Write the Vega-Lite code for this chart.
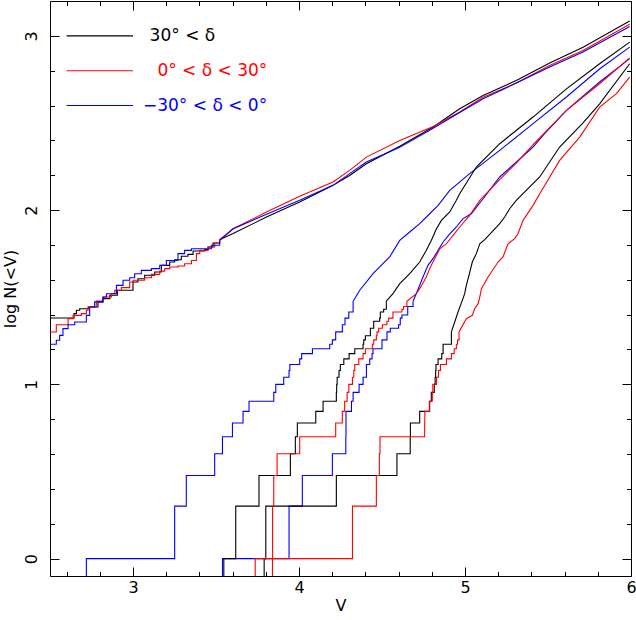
{
  "$schema": "https://vega.github.io/schema/vega-lite/v6.json",
  "width": 581,
  "height": 575,
  "autosize": {"type": "none"},
  "padding": {"left": 50, "top": 1, "right": 5, "bottom": 44},
  "background": "white",
  "config": {
    "view": {"stroke": null},
    "font": "DejaVu Sans",
    "axis": {
      "domainColor": "#000", "tickColor": "#000", "labelColor": "#000", "titleColor": "#000",
      "labelFont": "DejaVu Sans", "titleFont": "DejaVu Sans", "titleFontWeight": "normal",
      "labelFontSize": 16, "titleFontSize": 16, "grid": false, "domainWidth": 1, "tickWidth": 1,
      "labelFlush": false, "labelOverlap": false
    }
  },
  "datasets": {
    "steps": [
      {"curve":"N0","dec":"30° < δ","V":2.5,"logN":1.381},
      {"curve":"N0","dec":"30° < δ","V":2.645,"logN":1.406},
      {"curve":"N0","dec":"30° < δ","V":2.659,"logN":1.425},
      {"curve":"N0","dec":"30° < δ","V":2.679,"logN":1.434},
      {"curve":"N0","dec":"30° < δ","V":2.733,"logN":1.444},
      {"curve":"N0","dec":"30° < δ","V":2.789,"logN":1.473},
      {"curve":"N0","dec":"30° < δ","V":2.819,"logN":1.492},
      {"curve":"N0","dec":"30° < δ","V":2.86,"logN":1.511},
      {"curve":"N0","dec":"30° < δ","V":2.906,"logN":1.54},
      {"curve":"N0","dec":"30° < δ","V":3.0,"logN":1.587},
      {"curve":"N0","dec":"30° < δ","V":3.03,"logN":1.606},
      {"curve":"N0","dec":"30° < δ","V":3.07,"logN":1.626},
      {"curve":"N0","dec":"30° < δ","V":3.131,"logN":1.645},
      {"curve":"N0","dec":"30° < δ","V":3.171,"logN":1.683},
      {"curve":"N0","dec":"30° < δ","V":3.221,"logN":1.702},
      {"curve":"N0","dec":"30° < δ","V":3.251,"logN":1.715},
      {"curve":"N0","dec":"30° < δ","V":3.291,"logN":1.735},
      {"curve":"N0","dec":"30° < δ","V":3.331,"logN":1.746},
      {"curve":"N0","dec":"30° < δ","V":3.362,"logN":1.765},
      {"curve":"N0","dec":"30° < δ","V":3.432,"logN":1.773},
      {"curve":"N0","dec":"30° < δ","V":3.452,"logN":1.788},
      {"curve":"N0","dec":"30° < δ","V":3.482,"logN":1.811},
      {"curve":"N0","dec":"30° < δ","V":3.522,"logN":1.83},

      {"curve":"M0","dec":"0° < δ < 30°","V":2.5,"logN":1.3},
      {"curve":"M0","dec":"0° < δ < 30°","V":2.538,"logN":1.342},
      {"curve":"M0","dec":"0° < δ < 30°","V":2.609,"logN":1.377},
      {"curve":"M0","dec":"0° < δ < 30°","V":2.639,"logN":1.396},
      {"curve":"M0","dec":"0° < δ < 30°","V":2.689,"logN":1.406},
      {"curve":"M0","dec":"0° < δ < 30°","V":2.719,"logN":1.425},
      {"curve":"M0","dec":"0° < δ < 30°","V":2.729,"logN":1.444},
      {"curve":"M0","dec":"0° < δ < 30°","V":2.779,"logN":1.478},
      {"curve":"M0","dec":"0° < δ < 30°","V":2.819,"logN":1.501},
      {"curve":"M0","dec":"0° < δ < 30°","V":2.87,"logN":1.52},
      {"curve":"M0","dec":"0° < δ < 30°","V":2.89,"logN":1.54},
      {"curve":"M0","dec":"0° < δ < 30°","V":2.93,"logN":1.555},
      {"curve":"M0","dec":"0° < δ < 30°","V":2.98,"logN":1.587},
      {"curve":"M0","dec":"0° < δ < 30°","V":3.0,"logN":1.597},
      {"curve":"M0","dec":"0° < δ < 30°","V":3.07,"logN":1.612},
      {"curve":"M0","dec":"0° < δ < 30°","V":3.111,"logN":1.631},
      {"curve":"M0","dec":"0° < δ < 30°","V":3.161,"logN":1.65},
      {"curve":"M0","dec":"0° < δ < 30°","V":3.191,"logN":1.664},
      {"curve":"M0","dec":"0° < δ < 30°","V":3.221,"logN":1.673},
      {"curve":"M0","dec":"0° < δ < 30°","V":3.271,"logN":1.679},
      {"curve":"M0","dec":"0° < δ < 30°","V":3.311,"logN":1.692},
      {"curve":"M0","dec":"0° < δ < 30°","V":3.352,"logN":1.711},
      {"curve":"M0","dec":"0° < δ < 30°","V":3.382,"logN":1.75},
      {"curve":"M0","dec":"0° < δ < 30°","V":3.402,"logN":1.769},
      {"curve":"M0","dec":"0° < δ < 30°","V":3.452,"logN":1.788},
      {"curve":"M0","dec":"0° < δ < 30°","V":3.492,"logN":1.811},
      {"curve":"M0","dec":"0° < δ < 30°","V":3.522,"logN":1.83},

      {"curve":"S0","dec":"−30° < δ < 0°","V":2.5,"logN":1.23},
      {"curve":"S0","dec":"−30° < δ < 0°","V":2.538,"logN":1.253},
      {"curve":"S0","dec":"−30° < δ < 0°","V":2.558,"logN":1.281},
      {"curve":"S0","dec":"−30° < δ < 0°","V":2.578,"logN":1.32},
      {"curve":"S0","dec":"−30° < δ < 0°","V":2.609,"logN":1.342},
      {"curve":"S0","dec":"−30° < δ < 0°","V":2.649,"logN":1.358},
      {"curve":"S0","dec":"−30° < δ < 0°","V":2.719,"logN":1.396},
      {"curve":"S0","dec":"−30° < δ < 0°","V":2.739,"logN":1.444},
      {"curve":"S0","dec":"−30° < δ < 0°","V":2.769,"logN":1.473},
      {"curve":"S0","dec":"−30° < δ < 0°","V":2.819,"logN":1.501},
      {"curve":"S0","dec":"−30° < δ < 0°","V":2.84,"logN":1.52},
      {"curve":"S0","dec":"−30° < δ < 0°","V":2.9,"logN":1.568},
      {"curve":"S0","dec":"−30° < δ < 0°","V":2.94,"logN":1.597},
      {"curve":"S0","dec":"−30° < δ < 0°","V":2.98,"logN":1.612},
      {"curve":"S0","dec":"−30° < δ < 0°","V":3.01,"logN":1.635},
      {"curve":"S0","dec":"−30° < δ < 0°","V":3.05,"logN":1.654},
      {"curve":"S0","dec":"−30° < δ < 0°","V":3.111,"logN":1.664},
      {"curve":"S0","dec":"−30° < δ < 0°","V":3.161,"logN":1.683},
      {"curve":"S0","dec":"−30° < δ < 0°","V":3.201,"logN":1.711},
      {"curve":"S0","dec":"−30° < δ < 0°","V":3.271,"logN":1.75},
      {"curve":"S0","dec":"−30° < δ < 0°","V":3.311,"logN":1.769},
      {"curve":"S0","dec":"−30° < δ < 0°","V":3.352,"logN":1.778},
      {"curve":"S0","dec":"−30° < δ < 0°","V":3.472,"logN":1.798},
      {"curve":"S0","dec":"−30° < δ < 0°","V":3.522,"logN":1.826},

      {"curve":"S1","dec":"−30° < δ < 0°","V":2.719,"logN":-1},
      {"curve":"S1","dec":"−30° < δ < 0°","V":2.7191,"logN":0},
      {"curve":"S1","dec":"−30° < δ < 0°","V":3.251,"logN":0.301},
      {"curve":"S1","dec":"−30° < δ < 0°","V":3.321,"logN":0.477},
      {"curve":"S1","dec":"−30° < δ < 0°","V":3.492,"logN":0.602},
      {"curve":"S1","dec":"−30° < δ < 0°","V":3.539,"logN":0.699},
      {"curve":"S1","dec":"−30° < δ < 0°","V":3.599,"logN":0.778},
      {"curve":"S1","dec":"−30° < δ < 0°","V":3.663,"logN":0.845},
      {"curve":"S1","dec":"−30° < δ < 0°","V":3.699,"logN":0.903},
      {"curve":"S1","dec":"−30° < δ < 0°","V":3.848,"logN":0.954},
      {"curve":"S1","dec":"−30° < δ < 0°","V":3.86,"logN":1.0},
      {"curve":"S1","dec":"−30° < δ < 0°","V":3.908,"logN":1.041},
      {"curve":"S1","dec":"−30° < δ < 0°","V":3.94,"logN":1.079},
      {"curve":"S1","dec":"−30° < δ < 0°","V":3.945,"logN":1.114},
      {"curve":"S1","dec":"−30° < δ < 0°","V":4.004,"logN":1.146},
      {"curve":"S1","dec":"−30° < δ < 0°","V":4.016,"logN":1.176},
      {"curve":"S1","dec":"−30° < δ < 0°","V":4.081,"logN":1.204},
      {"curve":"S1","dec":"−30° < δ < 0°","V":4.185,"logN":1.23},
      {"curve":"S1","dec":"−30° < δ < 0°","V":4.201,"logN":1.255},
      {"curve":"S1","dec":"−30° < δ < 0°","V":4.221,"logN":1.301},
      {"curve":"S1","dec":"−30° < δ < 0°","V":4.261,"logN":1.342},
      {"curve":"S1","dec":"−30° < δ < 0°","V":4.277,"logN":1.38},
      {"curve":"S1","dec":"−30° < δ < 0°","V":4.3,"logN":1.415},
      {"curve":"S1","dec":"−30° < δ < 0°","V":4.326,"logN":1.477},

      {"curve":"S2","dec":"−30° < δ < 0°","V":3.539,"logN":-1},
      {"curve":"S2","dec":"−30° < δ < 0°","V":3.5391,"logN":0},
      {"curve":"S2","dec":"−30° < δ < 0°","V":3.94,"logN":0.301},
      {"curve":"S2","dec":"−30° < δ < 0°","V":4.02,"logN":0.477},
      {"curve":"S2","dec":"−30° < δ < 0°","V":4.201,"logN":0.602},
      {"curve":"S2","dec":"−30° < δ < 0°","V":4.282,"logN":0.699},
      {"curve":"S2","dec":"−30° < δ < 0°","V":4.283,"logN":0.845},
      {"curve":"S2","dec":"−30° < δ < 0°","V":4.316,"logN":0.903},
      {"curve":"S2","dec":"−30° < δ < 0°","V":4.326,"logN":0.954},
      {"curve":"S2","dec":"−30° < δ < 0°","V":4.362,"logN":1.0},
      {"curve":"S2","dec":"−30° < δ < 0°","V":4.386,"logN":1.041},
      {"curve":"S2","dec":"−30° < δ < 0°","V":4.406,"logN":1.114},
      {"curve":"S2","dec":"−30° < δ < 0°","V":4.426,"logN":1.146},
      {"curve":"S2","dec":"−30° < δ < 0°","V":4.44,"logN":1.176},
      {"curve":"S2","dec":"−30° < δ < 0°","V":4.446,"logN":1.204},
      {"curve":"S2","dec":"−30° < δ < 0°","V":4.5,"logN":1.255},
      {"curve":"S2","dec":"−30° < δ < 0°","V":4.53,"logN":1.301},
      {"curve":"S2","dec":"−30° < δ < 0°","V":4.55,"logN":1.322},
      {"curve":"S2","dec":"−30° < δ < 0°","V":4.6,"logN":1.342},
      {"curve":"S2","dec":"−30° < δ < 0°","V":4.61,"logN":1.38},
      {"curve":"S2","dec":"−30° < δ < 0°","V":4.62,"logN":1.398},
      {"curve":"S2","dec":"−30° < δ < 0°","V":4.655,"logN":1.447},
      {"curve":"S2","dec":"−30° < δ < 0°","V":4.687,"logN":1.477},

      {"curve":"N1","dec":"30° < δ","V":3.547,"logN":-1},
      {"curve":"N1","dec":"30° < δ","V":3.5471,"logN":0},
      {"curve":"N1","dec":"30° < δ","V":3.619,"logN":0.301},
      {"curve":"N1","dec":"30° < δ","V":3.759,"logN":0.477},
      {"curve":"N1","dec":"30° < δ","V":3.948,"logN":0.602},
      {"curve":"N1","dec":"30° < δ","V":3.978,"logN":0.699},
      {"curve":"N1","dec":"30° < δ","V":3.99,"logN":0.778},
      {"curve":"N1","dec":"30° < δ","V":4.101,"logN":0.845},
      {"curve":"N1","dec":"30° < δ","V":4.145,"logN":0.903},
      {"curve":"N1","dec":"30° < δ","V":4.225,"logN":0.954},
      {"curve":"N1","dec":"30° < δ","V":4.227,"logN":1.0},
      {"curve":"N1","dec":"30° < δ","V":4.23,"logN":1.041},
      {"curve":"N1","dec":"30° < δ","V":4.241,"logN":1.079},
      {"curve":"N1","dec":"30° < δ","V":4.249,"logN":1.114},
      {"curve":"N1","dec":"30° < δ","V":4.27,"logN":1.146},
      {"curve":"N1","dec":"30° < δ","V":4.302,"logN":1.176},
      {"curve":"N1","dec":"30° < δ","V":4.336,"logN":1.204},
      {"curve":"N1","dec":"30° < δ","V":4.386,"logN":1.23},
      {"curve":"N1","dec":"30° < δ","V":4.39,"logN":1.255},
      {"curve":"N1","dec":"30° < δ","V":4.4,"logN":1.279},
      {"curve":"N1","dec":"30° < δ","V":4.43,"logN":1.322},
      {"curve":"N1","dec":"30° < δ","V":4.45,"logN":1.362},
      {"curve":"N1","dec":"30° < δ","V":4.486,"logN":1.38},
      {"curve":"N1","dec":"30° < δ","V":4.49,"logN":1.415},
      {"curve":"N1","dec":"30° < δ","V":4.51,"logN":1.431},
      {"curve":"N1","dec":"30° < δ","V":4.526,"logN":1.477},

      {"curve":"N2","dec":"30° < δ","V":3.79,"logN":-1},
      {"curve":"N2","dec":"30° < δ","V":3.7901,"logN":0},
      {"curve":"N2","dec":"30° < δ","V":3.8,"logN":0.301},
      {"curve":"N2","dec":"30° < δ","V":4.225,"logN":0.477},
      {"curve":"N2","dec":"30° < δ","V":4.59,"logN":0.602},
      {"curve":"N2","dec":"30° < δ","V":4.67,"logN":0.699},
      {"curve":"N2","dec":"30° < δ","V":4.671,"logN":0.778},
      {"curve":"N2","dec":"30° < δ","V":4.727,"logN":0.845},
      {"curve":"N2","dec":"30° < δ","V":4.787,"logN":0.903},
      {"curve":"N2","dec":"30° < δ","V":4.797,"logN":0.954},
      {"curve":"N2","dec":"30° < δ","V":4.815,"logN":1.0},
      {"curve":"N2","dec":"30° < δ","V":4.82,"logN":1.041},
      {"curve":"N2","dec":"30° < δ","V":4.823,"logN":1.079},
      {"curve":"N2","dec":"30° < δ","V":4.825,"logN":1.114},
      {"curve":"N2","dec":"30° < δ","V":4.838,"logN":1.146},
      {"curve":"N2","dec":"30° < δ","V":4.86,"logN":1.176},
      {"curve":"N2","dec":"30° < δ","V":4.868,"logN":1.23},
      {"curve":"N2","dec":"30° < δ","V":4.918,"logN":1.301},

      {"curve":"M1","dec":"0° < δ < 30°","V":3.84,"logN":-1},
      {"curve":"M1","dec":"0° < δ < 30°","V":3.8401,"logN":0},
      {"curve":"M1","dec":"0° < δ < 30°","V":3.841,"logN":0.301},
      {"curve":"M1","dec":"0° < δ < 30°","V":3.848,"logN":0.477},
      {"curve":"M1","dec":"0° < δ < 30°","V":3.868,"logN":0.602},
      {"curve":"M1","dec":"0° < δ < 30°","V":4.004,"logN":0.699},
      {"curve":"M1","dec":"0° < δ < 30°","V":4.221,"logN":0.778},
      {"curve":"M1","dec":"0° < δ < 30°","V":4.261,"logN":0.845},
      {"curve":"M1","dec":"0° < δ < 30°","V":4.275,"logN":0.903},
      {"curve":"M1","dec":"0° < δ < 30°","V":4.29,"logN":0.954},
      {"curve":"M1","dec":"0° < δ < 30°","V":4.3,"logN":1.0},
      {"curve":"M1","dec":"0° < δ < 30°","V":4.322,"logN":1.041},
      {"curve":"M1","dec":"0° < δ < 30°","V":4.33,"logN":1.079},
      {"curve":"M1","dec":"0° < δ < 30°","V":4.336,"logN":1.114},
      {"curve":"M1","dec":"0° < δ < 30°","V":4.36,"logN":1.146},
      {"curve":"M1","dec":"0° < δ < 30°","V":4.386,"logN":1.176},
      {"curve":"M1","dec":"0° < δ < 30°","V":4.4,"logN":1.204},
      {"curve":"M1","dec":"0° < δ < 30°","V":4.442,"logN":1.23},
      {"curve":"M1","dec":"0° < δ < 30°","V":4.45,"logN":1.255},
      {"curve":"M1","dec":"0° < δ < 30°","V":4.466,"logN":1.279},
      {"curve":"M1","dec":"0° < δ < 30°","V":4.47,"logN":1.301},
      {"curve":"M1","dec":"0° < δ < 30°","V":4.48,"logN":1.322},
      {"curve":"M1","dec":"0° < δ < 30°","V":4.502,"logN":1.342},
      {"curve":"M1","dec":"0° < δ < 30°","V":4.53,"logN":1.362},
      {"curve":"M1","dec":"0° < δ < 30°","V":4.54,"logN":1.38},
      {"curve":"M1","dec":"0° < δ < 30°","V":4.566,"logN":1.415},
      {"curve":"M1","dec":"0° < δ < 30°","V":4.62,"logN":1.431},
      {"curve":"M1","dec":"0° < δ < 30°","V":4.63,"logN":1.447},
      {"curve":"M1","dec":"0° < δ < 30°","V":4.65,"logN":1.477},

      {"curve":"M2","dec":"0° < δ < 30°","V":3.736,"logN":-1},
      {"curve":"M2","dec":"0° < δ < 30°","V":3.7361,"logN":0},
      {"curve":"M2","dec":"0° < δ < 30°","V":4.322,"logN":0.301},
      {"curve":"M2","dec":"0° < δ < 30°","V":4.466,"logN":0.477},
      {"curve":"M2","dec":"0° < δ < 30°","V":4.484,"logN":0.602},
      {"curve":"M2","dec":"0° < δ < 30°","V":4.488,"logN":0.699},
      {"curve":"M2","dec":"0° < δ < 30°","V":4.757,"logN":0.778},
      {"curve":"M2","dec":"0° < δ < 30°","V":4.758,"logN":0.845},
      {"curve":"M2","dec":"0° < δ < 30°","V":4.785,"logN":0.903},
      {"curve":"M2","dec":"0° < δ < 30°","V":4.803,"logN":0.954},
      {"curve":"M2","dec":"0° < δ < 30°","V":4.806,"logN":1.0},
      {"curve":"M2","dec":"0° < δ < 30°","V":4.828,"logN":1.041},
      {"curve":"M2","dec":"0° < δ < 30°","V":4.84,"logN":1.079},
      {"curve":"M2","dec":"0° < δ < 30°","V":4.852,"logN":1.114},
      {"curve":"M2","dec":"0° < δ < 30°","V":4.888,"logN":1.146},
      {"curve":"M2","dec":"0° < δ < 30°","V":4.918,"logN":1.176},
      {"curve":"M2","dec":"0° < δ < 30°","V":4.935,"logN":1.204},
      {"curve":"M2","dec":"0° < δ < 30°","V":4.948,"logN":1.23},
      {"curve":"M2","dec":"0° < δ < 30°","V":4.955,"logN":1.255},
      {"curve":"M2","dec":"0° < δ < 30°","V":4.964,"logN":1.301}
    ],
    "smooth": [
      {"curve":"N0","dec":"30° < δ","V":3.522,"logN":1.83},
      {"curve":"N0","dec":"30° < δ","V":3.603,"logN":1.865},
      {"curve":"N0","dec":"30° < δ","V":3.804,"logN":1.96},
      {"curve":"N0","dec":"30° < δ","V":4.004,"logN":2.046},
      {"curve":"N0","dec":"30° < δ","V":4.205,"logN":2.142},
      {"curve":"N0","dec":"30° < δ","V":4.305,"logN":2.199},
      {"curve":"N0","dec":"30° < δ","V":4.406,"logN":2.266},
      {"curve":"N0","dec":"30° < δ","V":4.607,"logN":2.366},
      {"curve":"N0","dec":"30° < δ","V":4.808,"logN":2.477},
      {"curve":"N0","dec":"30° < δ","V":4.968,"logN":2.582},
      {"curve":"N0","dec":"30° < δ","V":5.109,"logN":2.658},
      {"curve":"N0","dec":"30° < δ","V":5.309,"logN":2.744},
      {"curve":"N0","dec":"30° < δ","V":5.51,"logN":2.844},
      {"curve":"N0","dec":"30° < δ","V":5.711,"logN":2.935},
      {"curve":"N0","dec":"30° < δ","V":5.992,"logN":3.085},

      {"curve":"M0","dec":"0° < δ < 30°","V":3.522,"logN":1.83},
      {"curve":"M0","dec":"0° < δ < 30°","V":3.603,"logN":1.893},
      {"curve":"M0","dec":"0° < δ < 30°","V":3.804,"logN":1.989},
      {"curve":"M0","dec":"0° < δ < 30°","V":4.004,"logN":2.079},
      {"curve":"M0","dec":"0° < δ < 30°","V":4.205,"logN":2.161},
      {"curve":"M0","dec":"0° < δ < 30°","V":4.305,"logN":2.228},
      {"curve":"M0","dec":"0° < δ < 30°","V":4.406,"logN":2.304},
      {"curve":"M0","dec":"0° < δ < 30°","V":4.607,"logN":2.4},
      {"curve":"M0","dec":"0° < δ < 30°","V":4.808,"logN":2.48},
      {"curve":"M0","dec":"0° < δ < 30°","V":4.968,"logN":2.563},
      {"curve":"M0","dec":"0° < δ < 30°","V":5.109,"logN":2.648},
      {"curve":"M0","dec":"0° < δ < 30°","V":5.309,"logN":2.729},
      {"curve":"M0","dec":"0° < δ < 30°","V":5.51,"logN":2.83},
      {"curve":"M0","dec":"0° < δ < 30°","V":5.711,"logN":2.916},
      {"curve":"M0","dec":"0° < δ < 30°","V":5.992,"logN":3.066},

      {"curve":"S0","dec":"−30° < δ < 0°","V":3.522,"logN":1.826},
      {"curve":"S0","dec":"−30° < δ < 0°","V":3.603,"logN":1.893},
      {"curve":"S0","dec":"−30° < δ < 0°","V":3.804,"logN":1.976},
      {"curve":"S0","dec":"−30° < δ < 0°","V":4.004,"logN":2.056},
      {"curve":"S0","dec":"−30° < δ < 0°","V":4.205,"logN":2.142},
      {"curve":"S0","dec":"−30° < δ < 0°","V":4.305,"logN":2.209},
      {"curve":"S0","dec":"−30° < δ < 0°","V":4.406,"logN":2.276},
      {"curve":"S0","dec":"−30° < δ < 0°","V":4.607,"logN":2.36},
      {"curve":"S0","dec":"−30° < δ < 0°","V":4.808,"logN":2.47},
      {"curve":"S0","dec":"−30° < δ < 0°","V":4.968,"logN":2.56},
      {"curve":"S0","dec":"−30° < δ < 0°","V":5.109,"logN":2.639},
      {"curve":"S0","dec":"−30° < δ < 0°","V":5.309,"logN":2.729},
      {"curve":"S0","dec":"−30° < δ < 0°","V":5.51,"logN":2.821},
      {"curve":"S0","dec":"−30° < δ < 0°","V":5.711,"logN":2.907},
      {"curve":"S0","dec":"−30° < δ < 0°","V":5.992,"logN":3.054},

      {"curve":"S1","dec":"−30° < δ < 0°","V":4.326,"logN":1.477},
      {"curve":"S1","dec":"−30° < δ < 0°","V":4.366,"logN":1.54},
      {"curve":"S1","dec":"−30° < δ < 0°","V":4.446,"logN":1.635},
      {"curve":"S1","dec":"−30° < δ < 0°","V":4.486,"logN":1.674},
      {"curve":"S1","dec":"−30° < δ < 0°","V":4.546,"logN":1.731},
      {"curve":"S1","dec":"−30° < δ < 0°","V":4.607,"logN":1.826},
      {"curve":"S1","dec":"−30° < δ < 0°","V":4.667,"logN":1.874},
      {"curve":"S1","dec":"−30° < δ < 0°","V":4.727,"logN":1.922},
      {"curve":"S1","dec":"−30° < δ < 0°","V":4.787,"logN":1.979},
      {"curve":"S1","dec":"−30° < δ < 0°","V":4.838,"logN":2.027},
      {"curve":"S1","dec":"−30° < δ < 0°","V":4.908,"logN":2.113},
      {"curve":"S1","dec":"−30° < δ < 0°","V":5.028,"logN":2.209},
      {"curve":"S1","dec":"−30° < δ < 0°","V":5.209,"logN":2.343},
      {"curve":"S1","dec":"−30° < δ < 0°","V":5.41,"logN":2.496},
      {"curve":"S1","dec":"−30° < δ < 0°","V":5.611,"logN":2.649},
      {"curve":"S1","dec":"−30° < δ < 0°","V":5.812,"logN":2.811},
      {"curve":"S1","dec":"−30° < δ < 0°","V":5.992,"logN":2.935},

      {"curve":"S2","dec":"−30° < δ < 0°","V":4.687,"logN":1.477},
      {"curve":"S2","dec":"−30° < δ < 0°","V":4.707,"logN":1.521},
      {"curve":"S2","dec":"−30° < δ < 0°","V":4.747,"logN":1.616},
      {"curve":"S2","dec":"−30° < δ < 0°","V":4.777,"logN":1.683},
      {"curve":"S2","dec":"−30° < δ < 0°","V":4.807,"logN":1.721},
      {"curve":"S2","dec":"−30° < δ < 0°","V":4.838,"logN":1.769},
      {"curve":"S2","dec":"−30° < δ < 0°","V":4.868,"logN":1.817},
      {"curve":"S2","dec":"−30° < δ < 0°","V":4.908,"logN":1.864},
      {"curve":"S2","dec":"−30° < δ < 0°","V":4.948,"logN":1.903},
      {"curve":"S2","dec":"−30° < δ < 0°","V":4.988,"logN":1.951},
      {"curve":"S2","dec":"−30° < δ < 0°","V":5.038,"logN":1.979},
      {"curve":"S2","dec":"−30° < δ < 0°","V":5.109,"logN":2.065},
      {"curve":"S2","dec":"−30° < δ < 0°","V":5.209,"logN":2.19},
      {"curve":"S2","dec":"−30° < δ < 0°","V":5.41,"logN":2.362},
      {"curve":"S2","dec":"−30° < δ < 0°","V":5.47,"logN":2.429},
      {"curve":"S2","dec":"−30° < δ < 0°","V":5.611,"logN":2.572},
      {"curve":"S2","dec":"−30° < δ < 0°","V":5.811,"logN":2.735},
      {"curve":"S2","dec":"−30° < δ < 0°","V":5.992,"logN":2.869},

      {"curve":"N1","dec":"30° < δ","V":4.526,"logN":1.477},
      {"curve":"N1","dec":"30° < δ","V":4.566,"logN":1.521},
      {"curve":"N1","dec":"30° < δ","V":4.607,"logN":1.578},
      {"curve":"N1","dec":"30° < δ","V":4.667,"logN":1.635},
      {"curve":"N1","dec":"30° < δ","V":4.727,"logN":1.702},
      {"curve":"N1","dec":"30° < δ","V":4.767,"logN":1.769},
      {"curve":"N1","dec":"30° < δ","V":4.797,"logN":1.826},
      {"curve":"N1","dec":"30° < δ","V":4.828,"logN":1.893},
      {"curve":"N1","dec":"30° < δ","V":4.858,"logN":1.941},
      {"curve":"N1","dec":"30° < δ","V":4.908,"logN":1.989},
      {"curve":"N1","dec":"30° < δ","V":4.948,"logN":2.056},
      {"curve":"N1","dec":"30° < δ","V":4.968,"logN":2.094},
      {"curve":"N1","dec":"30° < δ","V":5.068,"logN":2.247},
      {"curve":"N1","dec":"30° < δ","V":5.209,"logN":2.381},
      {"curve":"N1","dec":"30° < δ","V":5.41,"logN":2.534},
      {"curve":"N1","dec":"30° < δ","V":5.611,"logN":2.696},
      {"curve":"N1","dec":"30° < δ","V":5.811,"logN":2.84},
      {"curve":"N1","dec":"30° < δ","V":5.992,"logN":2.964},

      {"curve":"N2","dec":"30° < δ","V":4.918,"logN":1.301},
      {"curve":"N2","dec":"30° < δ","V":4.928,"logN":1.329},
      {"curve":"N2","dec":"30° < δ","V":4.958,"logN":1.415},
      {"curve":"N2","dec":"30° < δ","V":4.984,"logN":1.482},
      {"curve":"N2","dec":"30° < δ","V":4.998,"logN":1.52},
      {"curve":"N2","dec":"30° < δ","V":5.008,"logN":1.568},
      {"curve":"N2","dec":"30° < δ","V":5.024,"logN":1.625},
      {"curve":"N2","dec":"30° < δ","V":5.044,"logN":1.702},
      {"curve":"N2","dec":"30° < δ","V":5.068,"logN":1.75},
      {"curve":"N2","dec":"30° < δ","V":5.089,"logN":1.807},
      {"curve":"N2","dec":"30° < δ","V":5.119,"logN":1.83},
      {"curve":"N2","dec":"30° < δ","V":5.209,"logN":1.922},
      {"curve":"N2","dec":"30° < δ","V":5.239,"logN":1.96},
      {"curve":"N2","dec":"30° < δ","V":5.269,"logN":2.008},
      {"curve":"N2","dec":"30° < δ","V":5.309,"logN":2.056},
      {"curve":"N2","dec":"30° < δ","V":5.45,"logN":2.19},
      {"curve":"N2","dec":"30° < δ","V":5.57,"logN":2.362},
      {"curve":"N2","dec":"30° < δ","V":5.711,"logN":2.5},
      {"curve":"N2","dec":"30° < δ","V":5.811,"logN":2.61},
      {"curve":"N2","dec":"30° < δ","V":5.992,"logN":2.84},

      {"curve":"M1","dec":"0° < δ < 30°","V":4.65,"logN":1.477},
      {"curve":"M1","dec":"0° < δ < 30°","V":4.707,"logN":1.521},
      {"curve":"M1","dec":"0° < δ < 30°","V":4.727,"logN":1.549},
      {"curve":"M1","dec":"0° < δ < 30°","V":4.767,"logN":1.616},
      {"curve":"M1","dec":"0° < δ < 30°","V":4.787,"logN":1.664},
      {"curve":"M1","dec":"0° < δ < 30°","V":4.807,"logN":1.702},
      {"curve":"M1","dec":"0° < δ < 30°","V":4.848,"logN":1.778},
      {"curve":"M1","dec":"0° < δ < 30°","V":4.888,"logN":1.807},
      {"curve":"M1","dec":"0° < δ < 30°","V":4.928,"logN":1.855},
      {"curve":"M1","dec":"0° < δ < 30°","V":4.968,"logN":1.903},
      {"curve":"M1","dec":"0° < δ < 30°","V":5.028,"logN":1.97},
      {"curve":"M1","dec":"0° < δ < 30°","V":5.089,"logN":2.056},
      {"curve":"M1","dec":"0° < δ < 30°","V":5.209,"logN":2.175},
      {"curve":"M1","dec":"0° < δ < 30°","V":5.309,"logN":2.27},
      {"curve":"M1","dec":"0° < δ < 30°","V":5.41,"logN":2.375},
      {"curve":"M1","dec":"0° < δ < 30°","V":5.611,"logN":2.572},
      {"curve":"M1","dec":"0° < δ < 30°","V":5.811,"logN":2.725},
      {"curve":"M1","dec":"0° < δ < 30°","V":5.992,"logN":2.874},

      {"curve":"M2","dec":"0° < δ < 30°","V":4.964,"logN":1.301},
      {"curve":"M2","dec":"0° < δ < 30°","V":5.008,"logN":1.377},
      {"curve":"M2","dec":"0° < δ < 30°","V":5.044,"logN":1.396},
      {"curve":"M2","dec":"0° < δ < 30°","V":5.058,"logN":1.434},
      {"curve":"M2","dec":"0° < δ < 30°","V":5.079,"logN":1.463},
      {"curve":"M2","dec":"0° < δ < 30°","V":5.089,"logN":1.501},
      {"curve":"M2","dec":"0° < δ < 30°","V":5.099,"logN":1.549},
      {"curve":"M2","dec":"0° < δ < 30°","V":5.139,"logN":1.616},
      {"curve":"M2","dec":"0° < δ < 30°","V":5.199,"logN":1.702},
      {"curve":"M2","dec":"0° < δ < 30°","V":5.229,"logN":1.731},
      {"curve":"M2","dec":"0° < δ < 30°","V":5.259,"logN":1.807},
      {"curve":"M2","dec":"0° < δ < 30°","V":5.299,"logN":1.836},
      {"curve":"M2","dec":"0° < δ < 30°","V":5.319,"logN":1.864},
      {"curve":"M2","dec":"0° < δ < 30°","V":5.35,"logN":1.941},
      {"curve":"M2","dec":"0° < δ < 30°","V":5.41,"logN":2.027},
      {"curve":"M2","dec":"0° < δ < 30°","V":5.45,"logN":2.094},
      {"curve":"M2","dec":"0° < δ < 30°","V":5.57,"logN":2.285},
      {"curve":"M2","dec":"0° < δ < 30°","V":5.691,"logN":2.419},
      {"curve":"M2","dec":"0° < δ < 30°","V":5.811,"logN":2.591},
      {"curve":"M2","dec":"0° < δ < 30°","V":5.912,"logN":2.668},
      {"curve":"M2","dec":"0° < δ < 30°","V":5.992,"logN":2.763}
    ],
    "legend": [
      {"dec":"30° < δ","V1":2.6,"V2":3.0,"Vtext":3.1,"logN":3.0},
      {"dec":"0° < δ < 30°","V1":2.6,"V2":3.0,"Vtext":3.147,"logN":2.8},
      {"dec":"−30° < δ < 0°","V1":2.6,"V2":3.0,"Vtext":3.06,"logN":2.6}
    ]
  },
  "layer": [
    {
      "data": {"name": "smooth"},
      "mark": {"type": "line", "strokeWidth": 1.1, "clip": true},
      "encoding": {
        "x": {"field": "V", "type": "quantitative",
          "scale": {"domain": [2.5, 6], "nice": false, "zero": false},
          "axis": {"orient": "bottom", "title": "V", "titlePadding": -2,
            "values": [2.6,2.8,3,3.2,3.4,3.6,3.8,4,4.2,4.4,4.6,4.8,5,5.2,5.4,5.6,5.8,6],
            "labelExpr": "abs(datum.value - round(datum.value)) < 0.001 ? format(datum.value, 'd') : ''",
            "tickSize": {"condition": {"test": "abs(datum.value - round(datum.value)) < 0.001", "value": -9}, "value": -4.5},
            "labelPadding": 12, "labelAngle": 0}},
        "y": {"field": "logN", "type": "quantitative",
          "scale": {"domain": [-0.1, 3.2], "nice": false, "zero": false},
          "axis": {"orient": "left", "title": "log N(<V)", "titlePadding": 0,
            "values": [0,0.2,0.4,0.6,0.8,1,1.2,1.4,1.6,1.8,2,2.2,2.4,2.6,2.8,3],
            "labelExpr": "abs(datum.value - round(datum.value)) < 0.001 ? format(datum.value, 'd') : ''",
            "tickSize": {"condition": {"test": "abs(datum.value - round(datum.value)) < 0.001", "value": -9}, "value": -4.5},
            "labelAngle": 270, "labelAlign": "center", "labelBaseline": "bottom", "labelPadding": 20}},
        "color": {"field": "dec", "type": "nominal",
          "scale": {"domain": ["30° < δ", "0° < δ < 30°", "−30° < δ < 0°"], "range": ["#000000", "#ff0000", "#0000ff"]},
          "legend": null},
        "detail": {"field": "curve"},
        "order": {"field": "logN"}
      }
    },
    {
      "data": {"name": "steps"},
      "mark": {"type": "line", "interpolate": "step-after", "strokeWidth": 1.1, "clip": true},
      "encoding": {
        "x": {"field": "V", "type": "quantitative",
          "scale": {"domain": [2.5, 6], "nice": false, "zero": false},
          "axis": {"orient": "top", "title": null, "labels": false,
            "values": [2.6,2.8,3,3.2,3.4,3.6,3.8,4,4.2,4.4,4.6,4.8,5,5.2,5.4,5.6,5.8,6],
            "tickSize": {"condition": {"test": "abs(datum.value - round(datum.value)) < 0.001", "value": -9}, "value": -4.5}}},
        "y": {"field": "logN", "type": "quantitative",
          "scale": {"domain": [-0.1, 3.2], "nice": false, "zero": false},
          "axis": {"orient": "right", "title": null, "labels": false,
            "values": [0,0.2,0.4,0.6,0.8,1,1.2,1.4,1.6,1.8,2,2.2,2.4,2.6,2.8,3],
            "tickSize": {"condition": {"test": "abs(datum.value - round(datum.value)) < 0.001", "value": -9}, "value": -4.5}}},
        "color": {"field": "dec", "type": "nominal",
          "scale": {"domain": ["30° < δ", "0° < δ < 30°", "−30° < δ < 0°"], "range": ["#000000", "#ff0000", "#0000ff"]},
          "legend": null},
        "detail": {"field": "curve"},
        "order": {"field": "logN"}
      }
    },
    {
      "data": {"name": "legend"},
      "mark": {"type": "rule", "strokeWidth": 1.1},
      "encoding": {
        "x": {"field": "V1", "type": "quantitative", "scale": {"domain": [2.5, 6], "nice": false, "zero": false}, "axis": null},
        "x2": {"field": "V2"},
        "y": {"field": "logN", "type": "quantitative", "scale": {"domain": [-0.1, 3.2], "nice": false, "zero": false}, "axis": null},
        "color": {"field": "dec", "type": "nominal",
          "scale": {"domain": ["30° < δ", "0° < δ < 30°", "−30° < δ < 0°"], "range": ["#000000", "#ff0000", "#0000ff"]},
          "legend": null}
      }
    },
    {
      "data": {"name": "legend"},
      "mark": {"type": "text", "align": "left", "baseline": "middle", "fontSize": 17, "font": "DejaVu Sans"},
      "encoding": {
        "x": {"field": "Vtext", "type": "quantitative", "scale": {"domain": [2.5, 6], "nice": false, "zero": false}, "axis": null},
        "y": {"field": "logN", "type": "quantitative", "scale": {"domain": [-0.1, 3.2], "nice": false, "zero": false}, "axis": null},
        "text": {"field": "dec"},
        "color": {"field": "dec", "type": "nominal",
          "scale": {"domain": ["30° < δ", "0° < δ < 30°", "−30° < δ < 0°"], "range": ["#000000", "#ff0000", "#0000ff"]},
          "legend": null}
      }
    }
  ],
  "resolve": {"axis": {"x": "independent", "y": "independent"}}
}
